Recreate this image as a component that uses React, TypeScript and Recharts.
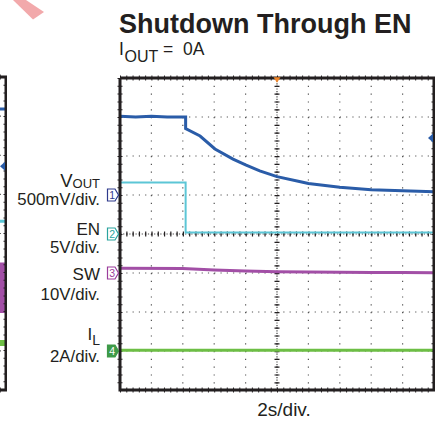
import React from 'react';
import {
  ComposedChart,
  Line,
  Area,
  XAxis,
  YAxis,
  CartesianGrid,
  ReferenceDot,
} from 'recharts';

// ---- time base (2 s/div, 10 divisions) ----
const timeTicks = [0, 2, 4, 6, 8, 10, 12, 14, 16, 18, 20];
const divTicks = [0, 1, 2, 3, 4, 5, 6, 7, 8];

// ---- channel 1: VOUT (500 mV/div, ground at division 5) ----
const voutTime = [0, 1, 2, 3, 4.18, 4.18, 5.1, 6.05, 7.2, 8.0, 8.9, 10.0, 11.5, 12.0, 14.0, 16.0, 18.0, 20.0];
const voutVolts = [1.01, 1.0, 1.01, 1.0, 1.0, 0.85, 0.756, 0.59, 0.46, 0.385, 0.31, 0.235, 0.17, 0.148, 0.098, 0.068, 0.055, 0.042];

// ---- channel 2: EN (5 V/div, ground at division 4) ----
const enTime = [0, 4.18, 4.18, 20];
const enVolts = [6.6, 6.6, 0.2, 0.2];

// ---- channel 3: SW (10 V/div, ground at division 3) ----
const swTime = [0, 4, 6, 8, 10, 12, 14, 16, 18, 20];
const swVolts = [1.2, 1.15, 0.8, 0.5, 0.33, 0.25, 0.18, 0.14, 0.1, 0.08];

// ---- channel 4: IL (2 A/div, ground at division 1) ----
const ilTime = [0, 20];
const ilAmps = [0.04, 0.04];

// trigger-level marker on VOUT (V)
const voutMarker = 0.73;

// ---- screen graticule (in time / divisions) ----
const frameTime = [0, 20, 20, 0, 0];
const frameDiv = [8, 8, 0, 0, 8];
const centerTime = 10;
const centerDiv = 4;

// ---- neighbouring capture (only its right edge is visible), in divisions ----
const prevTime = [0, 20];
const prevBlue = [7.18, 7.18];
const prevCyan = [4.31, 4.31];
const prevSwLow = [1.97, 1.97];
const prevSwHigh = [3.26, 3.26];
const prevGreen = [1.2, 1.2];
const prevMarkerDiv = 5.72;

// scales
const domainFor = (perDiv: number, groundDiv: number): [number, number] => [
  -groundDiv * perDiv,
  (8 - groundDiv) * perDiv,
];

const rows = (ts: number[], vs: number[]) => ts.map((t, i) => ({ t, v: vs[i] }));
const voutData = rows(voutTime, voutVolts);
const enData = rows(enTime, enVolts);
const swData = rows(swTime, swVolts);
const ilData = rows(ilTime, ilAmps);
const frameData = rows(frameTime, frameDiv);
const topEdge = rows([0, 20], [8, 8]);
const bottomEdge = rows([0, 20], [0, 0]);
const leftEdge = rows([0, 0], [8, 0]);
const rightEdge = rows([20, 20], [8, 0]);
const centerV = rows([centerTime, centerTime], [8, 0]);
const centerH = rows([0, 20], [centerDiv, centerDiv]);

const prevData = prevTime.map((t, i) => ({
  t,
  blue: prevBlue[i],
  cyan: prevCyan[i],
  band: [prevSwLow[i], prevSwHigh[i]],
  green: prevGreen[i],
}));

const FONT = '"Liberation Sans", Arial, Helvetica, sans-serif';
const INK = '#231F20';
const C_VOUT = '#2A5CA8';
const C_EN = '#5CC6D6';
const C_SW = '#A24FA6';
const C_IL = '#6DBE45';

const ChannelMarker = (props: any) => {
  const { cx, cy, label, color, filled } = props;
  if (cx == null || cy == null) return null;
  const x0 = cx - 12.5;
  const x1 = cx - 5;
  const tip = cx - 1.5;
  const h = 6;
  const d = `M${x0},${cy - h} L${x1},${cy - h} L${tip},${cy} L${x1},${cy + h} L${x0},${cy + h} Z`;
  return (
    <g>
      <path d={d} fill={filled ? color : '#fff'} stroke={color} strokeWidth={1.2} />
      <text
        x={(x0 + x1) / 2 + 0.8}
        y={cy + 3.8}
        fontSize={10.5}
        textAnchor="middle"
        fill={filled ? '#fff' : color}
        fontFamily={FONT}
      >
        {label}
      </text>
    </g>
  );
};

const LeftTriangle = (props: any) => {
  const { cx, cy, color } = props;
  if (cx == null || cy == null) return null;
  return <path d={`M${cx - 1},${cy - 4.5} L${cx - 6},${cy} L${cx - 1},${cy + 4.5} Z`} fill={color} />;
};

const DownTriangle = (props: any) => {
  const { cx, cy, color } = props;
  if (cx == null || cy == null) return null;
  return <path d={`M${cx - 3.5},${cy - 2} L${cx + 3.5},${cy - 2} L${cx},${cy + 3.5} Z`} fill={color} />;
};

const seg = (key: string, data: any[], width: number, dash?: string, color: string = INK) => (
  <Line
    key={key}
    data={data}
    dataKey="v"
    yAxisId="div"
    type="linear"
    stroke={color}
    strokeWidth={width}
    strokeDasharray={dash}
    dot={false}
    activeDot={false}
    isAnimationActive={false}
  />
);

const gridParts = () => [
  <CartesianGrid key="gh" yAxisId="div" vertical={false} stroke="#555" strokeWidth={1.2} strokeDasharray="1.2 5.08" />,
  <CartesianGrid key="gv" yAxisId="div" horizontal={false} stroke="#555" strokeWidth={1.2} strokeDasharray="1.2 6.6" />,
  seg('te', topEdge, 5, '1 5.28'),
  seg('be', bottomEdge, 5, '1 5.28'),
  seg('le', leftEdge, 5, '1 6.8'),
  seg('re', rightEdge, 5, '1 6.8'),
];

export default function App() {
  return (
    <div style={{ position: 'absolute', left: 0, top: 0, width: 435, height: 422, background: '#fff', overflow: 'hidden' }}>
      {/* neighbouring capture, mostly out of frame */}
      <div style={{ position: 'absolute', left: -308, top: 0 }}>
        <ComposedChart width={315} height={422} data={prevData} margin={{ top: 77, right: 1, bottom: 32, left: 0 }}>
          <XAxis dataKey="t" type="number" domain={[0, 20]} ticks={timeTicks} hide />
          <YAxis yAxisId="div" type="number" domain={[0, 8]} ticks={divTicks} hide />
          {gridParts()}
          <Area yAxisId="div" dataKey="band" stroke="none" fill={C_SW} fillOpacity={1} isAnimationActive={false} />
          <Line yAxisId="div" dataKey="blue" stroke={C_VOUT} strokeWidth={3} dot={false} isAnimationActive={false} />
          <Line yAxisId="div" dataKey="cyan" stroke={C_EN} strokeWidth={3} dot={false} isAnimationActive={false} />
          <Line yAxisId="div" dataKey="green" stroke={C_IL} strokeWidth={6} dot={false} isAnimationActive={false} />
          {seg('frame', frameData, 3)}
          <ReferenceDot yAxisId="div" x={20} y={prevMarkerDiv} r={4} ifOverflow="visible" shape={(p: any) => <LeftTriangle {...p} color={C_VOUT} />} />
        </ComposedChart>
      </div>

      {/* main capture */}
      <div style={{ position: 'absolute', left: 0, top: 0 }}>
        <ComposedChart width={435} height={422} margin={{ top: 78, right: 1, bottom: 32, left: 120 }}>
          <XAxis dataKey="t" type="number" domain={[0, 20]} ticks={timeTicks} hide />
          <YAxis yAxisId="div" type="number" domain={[0, 8]} ticks={divTicks} hide />
          <YAxis yAxisId="vout" type="number" domain={domainFor(0.5, 5)} hide />
          <YAxis yAxisId="en" type="number" domain={domainFor(5, 4)} hide />
          <YAxis yAxisId="sw" type="number" domain={domainFor(10, 3)} hide />
          <YAxis yAxisId="il" type="number" domain={domainFor(2, 1)} hide />
          {gridParts()}
          {seg('cv1', centerV, 1.2, '1.2 1.4', '#444')}
          {seg('cv2', centerV, 5, '1.2 6.6')}
          {seg('ch1', centerH, 1.2, '1.2 1.9', '#444')}
          {seg('ch2', centerH, 5, '1.2 5.08')}

          <Line data={ilData} dataKey="v" yAxisId="il" type="linear" stroke={C_IL} strokeWidth={3} dot={false} isAnimationActive={false} />
          <Line data={swData} dataKey="v" yAxisId="sw" type="linear" stroke={C_SW} strokeWidth={3} dot={false} isAnimationActive={false} />
          <Line data={enData} dataKey="v" yAxisId="en" type="linear" stroke={C_EN} strokeWidth={2} dot={false} isAnimationActive={false} />
          <Line data={voutData} dataKey="v" yAxisId="vout" type="linear" stroke={C_VOUT} strokeWidth={3} dot={false} isAnimationActive={false} />

          {seg('frame', frameData, 3)}

          <ReferenceDot yAxisId="vout" x={0} y={0} r={5} ifOverflow="visible" shape={(p: any) => <ChannelMarker {...p} label="1" color="#2E3A8C" />} />
          <ReferenceDot yAxisId="en" x={0} y={0} r={5} ifOverflow="visible" shape={(p: any) => <ChannelMarker {...p} label="2" color="#2AA39E" />} />
          <ReferenceDot yAxisId="sw" x={0} y={0} r={5} ifOverflow="visible" shape={(p: any) => <ChannelMarker {...p} label="3" color="#9B3D9C" />} />
          <ReferenceDot yAxisId="il" x={0} y={0} r={5} ifOverflow="visible" shape={(p: any) => <ChannelMarker {...p} label="4" color="#3E9A48" filled />} />
          <ReferenceDot yAxisId="vout" x={20} y={voutMarker} r={4} ifOverflow="visible" shape={(p: any) => <LeftTriangle {...p} color={C_VOUT} />} />
          <ReferenceDot yAxisId="div" x={centerTime} y={7.97} r={3} ifOverflow="visible" shape={(p: any) => <DownTriangle {...p} color="#F0862A" />} />
        </ComposedChart>
      </div>

      {/* texts */}
      <svg width={435} height={422} style={{ position: 'absolute', left: 0, top: 0, pointerEvents: 'none' }} fontFamily={FONT}>
        <polygon points="13,0 26,0 44,12 33,19.5" fill="#F2A9AB" />
        <text x={119} y={33} fontSize={27} fontWeight="bold" fill={INK}>Shutdown Through EN</text>
        <text y={55} fontSize={17.5} fill={INK}>
          <tspan x={119}>I</tspan>
          <tspan x={124.5} fontSize={16} dy={6.5}>OUT</tspan>
          <tspan x={163} dy={-6.5}>=</tspan>
          <tspan x={183}>0A</tspan>
        </text>

        <text x={100} y={187} fontSize={18.5} textAnchor="end" fill={INK}>
          V<tspan fontSize={13} dy={1}>OUT</tspan>
        </text>
        <text x={100} y={205} fontSize={16.8} textAnchor="end" fill={INK}>500mV/div.</text>
        <text x={100} y={235} fontSize={17} textAnchor="end" fill={INK}>EN</text>
        <text x={100} y={253} fontSize={16.8} textAnchor="end" fill={INK}>5V/div.</text>
        <text x={100} y={280} fontSize={17} textAnchor="end" fill={INK}>SW</text>
        <text x={100} y={300} fontSize={16.8} textAnchor="end" fill={INK}>10V/div.</text>
        <text x={100} y={340} fontSize={17} textAnchor="end" fill={INK}>
          I<tspan fontSize={14} dy={5}>L</tspan>
        </text>
        <text x={100} y={362} fontSize={16.8} textAnchor="end" fill={INK}>2A/div.</text>

        <text x={284} y={416} fontSize={19} textAnchor="middle" fill={INK}>2s/div.</text>
      </svg>
    </div>
  );
}
